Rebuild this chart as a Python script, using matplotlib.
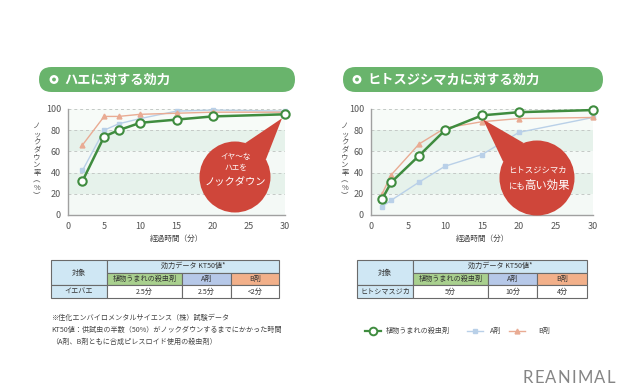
import numpy as np
import matplotlib
matplotlib.use("Agg")
import matplotlib.pyplot as plt
from matplotlib.patches import Circle, Polygon, Rectangle, FancyBboxPatch
from matplotlib.lines import Line2D

plt.rcParams['font.family'] = ['Noto Sans CJK JP', 'DejaVu Sans']

W, H = 640, 391

# data
fly_time = [2, 5, 7, 10, 15, 20, 30]
fly_plant = [32, 74, 80, 87, 90, 93, 95]
fly_a = [42, 80, 86, 91, 98, 99, 98]
fly_b = [66, 93, 93, 95, 96, 97, 97]

mosq_time = [1.5, 2.75, 6.5, 10, 15, 20, 30]
mosq_plant = [15, 31, 56, 80, 94, 97, 99]
mosq_a = [8, 14, 31, 46, 57, 78, 92]
mosq_b = [20, 38, 67, 82, 88, 91, 92]

agents = ["植物うまれの殺虫剤", "A剤", "B剤"]
fly_kt50 = ["2.5分", "2.5分", "<2分"]
mosq_kt50 = ["5分", "10分", "4分"]

notes = ["※住化エンバイロメンタルサイエンス（株）試験データ",
         "KT50値：供試虫の半数（50%）がノックダウンするまでにかかった時間",
         "（A剤、B剤ともに合成ピレスロイド使用の殺虫剤）"]

GREEN = "#3f8c3f"
BLUE = "#b9d0e8"
ORANGE = "#e9ab93"
RED = "#cf463a"
BANNER = "#69b46c"


def px_axes(fig, x0, y0, x1, y1):
    return fig.add_axes([x0 / W, 1 - y1 / H, (x1 - x0) / W, (y1 - y0) / H])


def draw_chart(ax, t, plant, a, b):
    ax.set_xlim(0, 30)
    ax.set_ylim(0, 100)
    for lo, hi, c in [(0, 20, "#f4f9f6"), (20, 40, "#e6f2eb"), (40, 60, "#f4f9f6"),
                      (60, 80, "#e6f2eb"), (80, 100, "#f7fbf8")]:
        ax.axhspan(lo, hi, color=c, zorder=0, lw=0)
    for g in [20, 40, 60, 80, 100]:
        ax.axhline(g, color="#c4c9c6", lw=0.7, ls=(0, (3, 3)), zorder=1)
    ax.plot(t, a, color=BLUE, lw=1.0, marker="s", ms=2.8, mfc=BLUE, mec=BLUE, zorder=2, clip_on=False)
    ax.plot(t, b, color=ORANGE, lw=1.0, marker="^", ms=3.5, mfc=ORANGE, mec=ORANGE, zorder=2, clip_on=False)
    ax.plot(t, plant, color=GREEN, lw=1.8, marker="o", ms=6, mfc="white", mec=GREEN,
            mew=1.5, zorder=3, clip_on=False)
    ax.set_xticks([0, 5, 10, 15, 20, 25, 30])
    ax.set_yticks([0, 20, 40, 60, 80, 100])
    ax.tick_params(length=0, labelsize=6.5, labelcolor="#555555", pad=5)
    for s in ["top", "right"]:
        ax.spines[s].set_visible(False)
    for s in ["left", "bottom"]:
        ax.spines[s].set_color("#a0a0a0")
        ax.spines[s].set_linewidth(1.0)
    ax.set_xlabel("経過時間（分）", fontsize=5.5, color="#444444", labelpad=3)


def to_px(ax, x, y):
    d = ax.transData.transform((x, y))
    return d[0], H - d[1]


def bubble(ov, cx, cy, r, tx, ty, spread=0.38):
    th = np.arctan2(ty - cy, tx - cx)
    p1 = (cx + r * np.cos(th - spread), cy + r * np.sin(th - spread))
    p2 = (cx + r * np.cos(th + spread), cy + r * np.sin(th + spread))
    ov.add_patch(Polygon([p1, (tx, ty), p2], closed=True, fc=RED, ec="none", zorder=5))
    ov.add_patch(Circle((cx, cy), r, fc=RED, ec="none", zorder=5))


def banner(ov, x0, x1, text, text_x):
    ov.add_patch(FancyBboxPatch((x0, 67), x1 - x0, 25,
                                boxstyle="round,pad=0,rounding_size=12.5",
                                fc=BANNER, ec="none", zorder=2))
    ov.add_patch(Circle((text_x - 10, 79.5), 3.2, fc="none", ec="white", lw=1.8, zorder=3))
    ov.text(text_x, 79.5, text, color="white", fontsize=9.5, fontweight="bold",
            va="center", ha="left", zorder=3)


def table(ov, cols, target, vals):
    rows = [260, 272.5, 285, 298]
    light = "#cfe7f4"
    fills = ["#a9d08e", "#b6c8e8", "#f2b08a"]
    ec = "#6a6a6a"
    fs = 5.1

    def cell(x0, y0, x1, y1, fc, txt):
        ov.add_patch(Rectangle((x0, y0), x1 - x0, y1 - y0, fc=fc, ec=ec, lw=0.8, zorder=2))
        ov.text((x0 + x1) / 2, (y0 + y1) / 2, txt, fontsize=fs, color="#333333",
                ha="center", va="center", zorder=3)

    cell(cols[0], rows[0], cols[1], rows[2], light, "対象")
    cell(cols[1], rows[0], cols[4], rows[1], light, "効力データ KT50値*")
    for i in range(3):
        cell(cols[i + 1], rows[1], cols[i + 2], rows[2], fills[i], agents[i])
    cell(cols[0], rows[2], cols[1], rows[3], light, target)
    for i in range(3):
        cell(cols[i + 1], rows[2], cols[i + 2], rows[3], "white", vals[i])


fig = plt.figure(figsize=(W / 100, H / 100), dpi=100)
fig.patch.set_facecolor("white")

ax1 = px_axes(fig, 68, 109, 285, 215)
draw_chart(ax1, fly_time, fly_plant, fly_a, fly_b)
ax2 = px_axes(fig, 371, 109, 593, 215)
draw_chart(ax2, mosq_time, mosq_plant, mosq_a, mosq_b)

ov = fig.add_axes([0, 0, 1, 1], zorder=10)
ov.set_xlim(0, W)
ov.set_ylim(H, 0)
ov.axis("off")

banner(ov, 39, 295, "ハエに対する効力", 64)
banner(ov, 343, 603, "ヒトスジシマカに対する効力", 367)

ylab = "ノ\nッ\nク\nダ\nウ\nン\n率\n︵\n%\n︶"
for x in [37, 345]:
    ov.text(x, 161, ylab, fontsize=5.3, color="#555555", ha="center", va="center",
            linespacing=0.95)

# speech bubbles pointing at the plant-based line
tx, ty = to_px(ax1, fly_time[-1], fly_plant[-1])
bubble(ov, 235, 177, 35.5, tx - 3, ty + 4)
ov.text(236, 157, "イヤ〜な", color="white", fontsize=5.5, ha="center", va="center", zorder=6)
ov.text(236, 167, "ハエを", color="white", fontsize=5.5, ha="center", va="center", zorder=6)
ov.text(235, 182, "ノックダウン", color="white", fontsize=7.4, ha="center", va="center", zorder=6)

tx, ty = to_px(ax2, mosq_time[4], mosq_plant[4])
bubble(ov, 537, 178, 37.5, tx + 1, ty + 4)
ov.text(537, 170, "ヒトスジシマカ", color="white", fontsize=6, ha="center", va="center", zorder=6)
ov.text(517, 186, "にも", color="white", fontsize=6, ha="center", va="center", zorder=6)
ov.text(547, 185, "高い効果", color="white", fontsize=8.2, ha="center", va="center", zorder=6)

table(ov, [51, 107, 182, 231, 279], "イエバエ", fly_kt50)
table(ov, [357, 413, 488, 537, 587], "ヒトシマスジカ", mosq_kt50)

for i, line in enumerate(notes):
    ov.text(51, 318 + 12 * i, line, fontsize=5.1, color="#444444", ha="left", va="center")

# legend
leg_y = 331
ov.add_line(Line2D([365, 381], [leg_y, leg_y], color=GREEN, lw=1.6, zorder=2))
ov.plot([373], [leg_y], marker="o", ms=5.5, mfc="white", mec=GREEN, mew=1.4, zorder=3)
ov.text(386, leg_y, agents[0], fontsize=5.1, color="#444444", va="center")
ov.add_line(Line2D([467, 483], [leg_y, leg_y], color=BLUE, lw=1.0, zorder=2))
ov.plot([475], [leg_y], marker="s", ms=2.8, color=BLUE, zorder=3)
ov.text(490, leg_y, agents[1], fontsize=5.1, color="#444444", va="center")
ov.add_line(Line2D([509, 525], [leg_y, leg_y], color=ORANGE, lw=1.0, zorder=2))
ov.plot([517], [leg_y], marker="^", ms=3.5, color=ORANGE, zorder=3)
ov.text(538, leg_y, agents[2], fontsize=5.1, color="#444444", va="center")

# watermark, letter-spaced
mark = "REANIMAL"
mx = 523
for ch in mark:
    t = ov.text(mx, 378, ch, fontsize=12, color="#858585", family="Lato",
                ha="left", va="center")
    fig.canvas.draw()
    bb = t.get_window_extent()
    mx += bb.width + 1.2

fig.savefig("out.png", dpi=100, facecolor="white")
